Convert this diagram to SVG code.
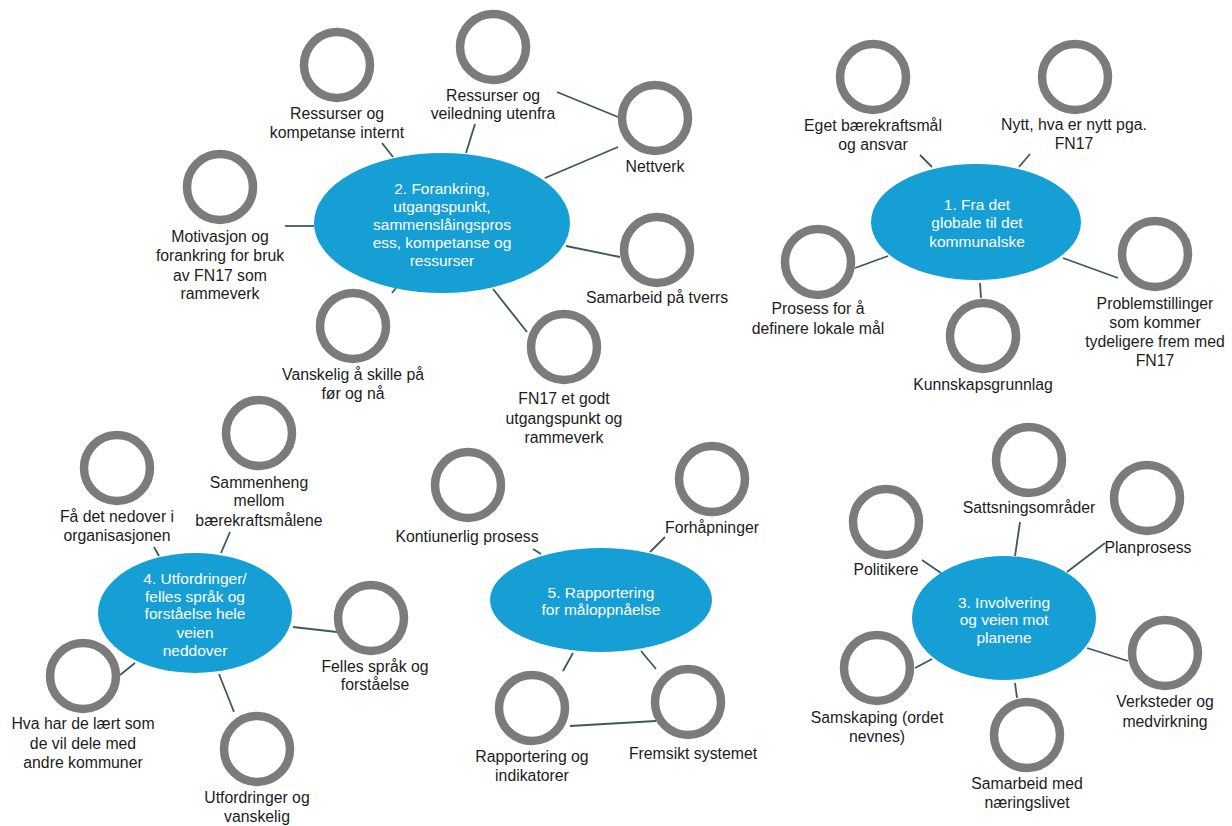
<svg xmlns="http://www.w3.org/2000/svg" width="1232" height="826" viewBox="0 0 1232 826">
  <style>
    .ring { fill: none; stroke: #7b7b7b; stroke-width: 8.5; }
    .hub { fill: #159fd4; }
    .link { stroke: #3c5a5a; stroke-width: 1.8; fill: none; }
    text { font-family: "Liberation Sans", Arial, sans-serif; text-anchor: middle; }
    .lbl { font-size: 15.8px; fill: #1c1c1c; }
    .hubtxt { font-size: 15.5px; fill: #ffffff; }
  </style>
  <rect width="1232" height="826" fill="#ffffff"/>

  <!-- connectors -->
  <g id="connectors">
    <!-- theme 2 -->
    <line class="link" x1="382" y1="143" x2="393" y2="157"/>
    <line class="link" x1="475" y1="124" x2="466" y2="153"/>
    <line class="link" x1="557" y1="92" x2="618" y2="117"/>
    <line class="link" x1="545" y1="178" x2="618" y2="147"/>
    <line class="link" x1="285" y1="226" x2="314" y2="226"/>
    <line class="link" x1="566" y1="246" x2="620" y2="257"/>
    <line class="link" x1="493" y1="289" x2="527" y2="332"/>
    <line class="link" x1="392" y1="293" x2="396" y2="288"/>
    <!-- theme 1 -->
    <line class="link" x1="920" y1="155" x2="932" y2="167"/>
    <line class="link" x1="1030" y1="154" x2="1019" y2="167"/>
    <line class="link" x1="888" y1="256" x2="855" y2="268"/>
    <line class="link" x1="980" y1="283" x2="981" y2="298"/>
    <line class="link" x1="1063" y1="258" x2="1118" y2="278"/>
    <!-- theme 4 -->
    <line class="link" x1="154" y1="547" x2="159" y2="556"/>
    <line class="link" x1="230" y1="532" x2="221" y2="553"/>
    <line class="link" x1="293" y1="627" x2="337" y2="632"/>
    <line class="link" x1="135" y1="663" x2="120" y2="675"/>
    <line class="link" x1="219" y1="674" x2="234" y2="712"/>
    <!-- theme 5 -->
    <line class="link" x1="533" y1="549" x2="541" y2="554"/>
    <line class="link" x1="665" y1="537" x2="650" y2="552"/>
    <line class="link" x1="573" y1="653" x2="563" y2="671"/>
    <line class="link" x1="641" y1="651" x2="656" y2="669"/>
    <line class="link" x1="570" y1="726" x2="656" y2="721"/>
    <!-- theme 3 -->
    <line class="link" x1="1020" y1="522" x2="1015" y2="556"/>
    <line class="link" x1="1105" y1="543" x2="1067" y2="572"/>
    <line class="link" x1="922" y1="560" x2="941" y2="573"/>
    <line class="link" x1="1087" y1="648" x2="1128" y2="661"/>
    <line class="link" x1="915" y1="668" x2="932" y2="659"/>
    <line class="link" x1="1015" y1="683" x2="1017" y2="698"/>
  </g>

  <!-- theme 2 hub and items -->
  <g id="hub2">
    <ellipse class="hub" cx="442" cy="223" rx="128" ry="70"/>
    <text class="hubtxt" x="442" y="193.5">2. Forankring,</text>
    <text class="hubtxt" x="442" y="211.5">utgangspunkt,</text>
    <text class="hubtxt" x="442" y="229.5">sammenslåingspros</text>
    <text class="hubtxt" x="442" y="247.5">ess, kompetanse og</text>
    <text class="hubtxt" x="442" y="265.5">ressurser</text>
  </g>
  <g id="n2a">
    <circle class="ring" cx="337" cy="65" r="33"/>
    <text class="lbl" x="337" y="118.5">Ressurser og</text>
    <text class="lbl" x="337" y="138">kompetanse internt</text>
  </g>
  <g id="n2b">
    <circle class="ring" cx="493" cy="47" r="33"/>
    <text class="lbl" x="493" y="100.5">Ressurser og</text>
    <text class="lbl" x="493" y="119">veiledning utenfra</text>
  </g>
  <g id="n2c">
    <circle class="ring" cx="655" cy="118" r="33"/>
    <text class="lbl" x="655" y="171.5">Nettverk</text>
  </g>
  <g id="n2d">
    <circle class="ring" cx="220" cy="187" r="33"/>
    <text class="lbl" x="220" y="241.5">Motivasjon og</text>
    <text class="lbl" x="220" y="261">forankring for bruk</text>
    <text class="lbl" x="220" y="280.5">av FN17 som</text>
    <text class="lbl" x="220" y="299">rammeverk</text>
  </g>
  <g id="n2e">
    <circle class="ring" cx="657" cy="250" r="33"/>
    <text class="lbl" x="657" y="302.5">Samarbeid på tverrs</text>
  </g>
  <g id="n2f">
    <circle class="ring" cx="564" cy="347" r="33"/>
    <text class="lbl" x="564" y="403.5">FN17 et godt</text>
    <text class="lbl" x="564" y="423.5">utgangspunkt og</text>
    <text class="lbl" x="564" y="443">rammeverk</text>
  </g>
  <g id="n2g">
    <circle class="ring" cx="353" cy="326" r="33"/>
    <text class="lbl" x="353" y="379.5">Vanskelig å skille på</text>
    <text class="lbl" x="353" y="398.5">før og nå</text>
  </g>

  <!-- theme 1 hub and items -->
  <g id="hub1">
    <ellipse class="hub" cx="976" cy="222" rx="105" ry="58"/>
    <text class="hubtxt" x="977" y="209.5">1. Fra det</text>
    <text class="hubtxt" x="977" y="228">globale til det</text>
    <text class="hubtxt" x="977" y="246.5">kommunalske</text>
  </g>
  <g id="n1a">
    <circle class="ring" cx="873" cy="77" r="33"/>
    <text class="lbl" x="873" y="130.5">Eget bærekraftsmål</text>
    <text class="lbl" x="873" y="149.5">og ansvar</text>
  </g>
  <g id="n1b">
    <circle class="ring" cx="1075" cy="77" r="33"/>
    <text class="lbl" x="1074" y="129.5">Nytt, hva er nytt pga.</text>
    <text class="lbl" x="1074" y="149">FN17</text>
  </g>
  <g id="n1c">
    <circle class="ring" cx="818" cy="262" r="33"/>
    <text class="lbl" x="818" y="313.5">Prosess for å</text>
    <text class="lbl" x="818" y="333.5">definere lokale mål</text>
  </g>
  <g id="n1d">
    <circle class="ring" cx="983" cy="336" r="33"/>
    <text class="lbl" x="983" y="389.5">Kunnskapsgrunnlag</text>
  </g>
  <g id="n1e">
    <circle class="ring" cx="1155" cy="254" r="33"/>
    <text class="lbl" x="1155" y="308.5">Problemstillinger</text>
    <text class="lbl" x="1155" y="327.5">som kommer</text>
    <text class="lbl" x="1155" y="346.5">tydeligere frem med</text>
    <text class="lbl" x="1155" y="365.5">FN17</text>
  </g>

  <!-- theme 4 hub and items -->
  <g id="hub4">
    <ellipse class="hub" cx="195" cy="613" rx="97" ry="60"/>
    <text class="hubtxt" x="195" y="583.5">4. Utfordringer/</text>
    <text class="hubtxt" x="195" y="601.5">felles språk og</text>
    <text class="hubtxt" x="195" y="619">forståelse hele</text>
    <text class="hubtxt" x="195" y="637.5">veien</text>
    <text class="hubtxt" x="195" y="655.5">neddover</text>
  </g>
  <g id="n4a">
    <circle class="ring" cx="117" cy="468" r="33"/>
    <text class="lbl" x="117" y="521.5">Få det nedover i</text>
    <text class="lbl" x="117" y="541">organisasjonen</text>
  </g>
  <g id="n4b">
    <circle class="ring" cx="259" cy="433" r="33"/>
    <text class="lbl" x="259" y="487.5">Sammenheng</text>
    <text class="lbl" x="259" y="506">mellom</text>
    <text class="lbl" x="259" y="525.5">bærekraftsmålene</text>
  </g>
  <g id="n4c">
    <circle class="ring" cx="371" cy="618" r="33"/>
    <text class="lbl" x="375" y="671.5">Felles språk og</text>
    <text class="lbl" x="375" y="690">forståelse</text>
  </g>
  <g id="n4d">
    <circle class="ring" cx="83" cy="676" r="33"/>
    <text class="lbl" x="83" y="728.5">Hva har de lært som</text>
    <text class="lbl" x="83" y="748.5">de vil dele med</text>
    <text class="lbl" x="83" y="768">andre kommuner</text>
  </g>
  <g id="n4e">
    <circle class="ring" cx="257" cy="749" r="33"/>
    <text class="lbl" x="257" y="802.5">Utfordringer og</text>
    <text class="lbl" x="257" y="822">vanskelig</text>
  </g>

  <!-- theme 5 hub and items -->
  <g id="hub5">
    <ellipse class="hub" cx="601" cy="600" rx="111" ry="52"/>
    <text class="hubtxt" x="601" y="597.5">5. Rapportering</text>
    <text class="hubtxt" x="601" y="614.5">for måloppnåelse</text>
  </g>
  <g id="n5a">
    <circle class="ring" cx="468" cy="485" r="33"/>
    <text class="lbl" x="467" y="541.5">Kontiunerlig prosess</text>
  </g>
  <g id="n5b">
    <circle class="ring" cx="712" cy="479" r="33"/>
    <text class="lbl" x="712" y="532.5">Forhåpninger</text>
  </g>
  <g id="n5c">
    <circle class="ring" cx="532" cy="708" r="33"/>
    <text class="lbl" x="532" y="761.5">Rapportering og</text>
    <text class="lbl" x="532" y="780.5">indikatorer</text>
  </g>
  <g id="n5d">
    <circle class="ring" cx="688" cy="702" r="33"/>
    <text class="lbl" x="693" y="758.5">Fremsikt systemet</text>
  </g>

  <!-- theme 3 hub and items -->
  <g id="hub3">
    <ellipse class="hub" cx="1004" cy="618" rx="92" ry="62"/>
    <text class="hubtxt" x="1004" y="607.5">3. Involvering</text>
    <text class="hubtxt" x="1004" y="625">og veien mot</text>
    <text class="hubtxt" x="1004" y="642.5">planene</text>
  </g>
  <g id="n3a">
    <circle class="ring" cx="1029" cy="460" r="33"/>
    <text class="lbl" x="1029" y="512.5">Sattsningsområder</text>
  </g>
  <g id="n3b">
    <circle class="ring" cx="1147" cy="498" r="33"/>
    <text class="lbl" x="1148" y="552.5">Planprosess</text>
  </g>
  <g id="n3c">
    <circle class="ring" cx="886" cy="522" r="33"/>
    <text class="lbl" x="886" y="574.5">Politikere</text>
  </g>
  <g id="n3d">
    <circle class="ring" cx="1165" cy="653" r="33"/>
    <text class="lbl" x="1165" y="706.5">Verksteder og</text>
    <text class="lbl" x="1165" y="726.5">medvirkning</text>
  </g>
  <g id="n3e">
    <circle class="ring" cx="877" cy="668" r="33"/>
    <text class="lbl" x="877" y="722.5">Samskaping (ordet</text>
    <text class="lbl" x="877" y="741.5">nevnes)</text>
  </g>
  <g id="n3f">
    <circle class="ring" cx="1027" cy="735" r="33"/>
    <text class="lbl" x="1027" y="788.5">Samarbeid med</text>
    <text class="lbl" x="1027" y="807.5">næringslivet</text>
  </g>
</svg>
